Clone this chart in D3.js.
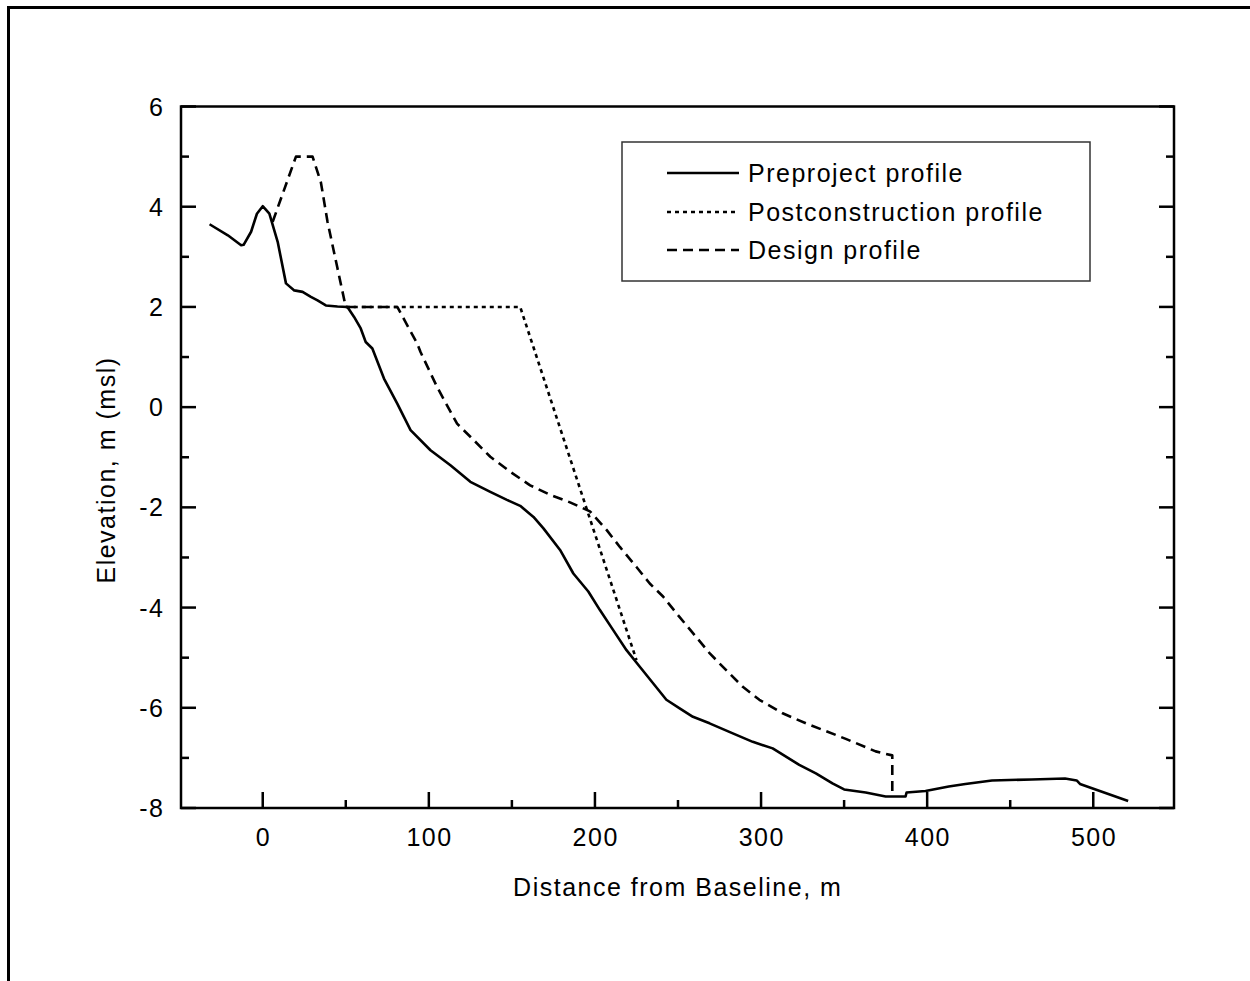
<!DOCTYPE html>
<html>
<head>
<meta charset="utf-8">
<script src="https://cdn.jsdelivr.net/npm/d3@7"></script>
<style>
  html, body { margin: 0; padding: 0; background: #fff; }
  svg { display: block; }
  text { font-family: "Liberation Sans", Arial, sans-serif; fill: #000; }
</style>
</head>
<body>
<svg id="chart" width="1250" height="981"></svg>
<script>
// ---- data ----
const preDist = [-32, -21, -13, -11.5, -7, -3.5, 0, 4, 9, 14, 19, 24, 29, 33, 38, 45, 51, 55, 59, 62, 66, 73, 81, 89, 101, 113, 125, 137, 147, 155, 163, 169, 179, 187, 196, 203, 211, 219, 227, 235, 243, 251, 259, 269, 283, 295, 307, 323, 333, 343, 350, 363, 375, 387, 387.6, 399, 413, 423, 439, 463, 483, 490, 492, 521];
const preElev = [3.65, 3.43, 3.23, 3.24, 3.50, 3.86, 4.01, 3.86, 3.30, 2.47, 2.33, 2.30, 2.20, 2.13, 2.03, 2.01, 2.0, 1.80, 1.57, 1.30, 1.17, 0.57, 0.07, -0.46, -0.86, -1.16, -1.49, -1.69, -1.85, -1.97, -2.19, -2.42, -2.85, -3.32, -3.68, -4.05, -4.45, -4.85, -5.18, -5.51, -5.84, -6.01, -6.18, -6.31, -6.51, -6.68, -6.81, -7.14, -7.31, -7.51, -7.63, -7.69, -7.77, -7.77, -7.69, -7.66, -7.57, -7.52, -7.45, -7.43, -7.41, -7.45, -7.52, -7.86];

const postDist = [50, 155, 225];
const postElev = [2.0, 2.0, -5.05];

const designDist = [6, 20, 30, 35, 39, 45, 50, 81, 93, 95, 105, 117, 125, 137, 149, 161, 173, 185, 197, 207, 215, 225, 233, 241, 249, 259, 269, 279, 289, 299, 313, 327, 351, 369, 379, 379];
const designElev = [3.70, 5.0, 5.0, 4.49, 3.70, 2.77, 2.0, 2.0, 1.27, 1.10, 0.40, -0.33, -0.59, -0.99, -1.29, -1.56, -1.75, -1.90, -2.08, -2.45, -2.79, -3.19, -3.52, -3.78, -4.11, -4.51, -4.91, -5.25, -5.58, -5.84, -6.11, -6.31, -6.62, -6.87, -6.95, -7.77];

const xMajorTicks = [0, 100, 200, 300, 400, 500];
const xMinorTicks = [50, 150, 250, 350, 450];
const yMajorTicks = [-8, -6, -4, -2, 0, 2, 4, 6];
const yMinorTicks = [-7, -5, -3, -1, 1, 3, 5];

const legendLabels = ["Preproject profile", "Postconstruction profile", "Design profile"];
const xTitle = "Distance from Baseline, m";
const yTitle = "Elevation, m (msl)";

// ---- layout ----
const svg = d3.select("#chart");
const L = 181, R = 1174, T = 106.5, B = 808;
const x = d3.scaleLinear().domain([-49.2, 548.6]).range([L, R]);
const y = d3.scaleLinear().domain([-8, 6]).range([B, T]);

// outer frame (top and left)
svg.append("line").attr("x1", 8).attr("y1", 7.5).attr("x2", 1250).attr("y2", 7.5)
  .attr("stroke", "#000").attr("stroke-width", 3);
svg.append("line").attr("x1", 8.5).attr("y1", 6).attr("x2", 8.5).attr("y2", 981)
  .attr("stroke", "#000").attr("stroke-width", 3);

// axes box
svg.append("rect").attr("x", L).attr("y", T).attr("width", R - L).attr("height", B - T)
  .attr("fill", "none").attr("stroke", "#000").attr("stroke-width", 2.5);

const tickG = svg.append("g").attr("stroke", "#000").attr("stroke-width", 2.5);
xMajorTicks.forEach(v => {
  tickG.append("line").attr("x1", x(v)).attr("x2", x(v)).attr("y1", B).attr("y2", B - 16);
});
xMinorTicks.forEach(v => {
  tickG.append("line").attr("x1", x(v)).attr("x2", x(v)).attr("y1", B).attr("y2", B - 8);
});
yMajorTicks.forEach(v => {
  tickG.append("line").attr("x1", L).attr("x2", L + 15).attr("y1", y(v)).attr("y2", y(v));
  tickG.append("line").attr("x1", R).attr("x2", R - 15).attr("y1", y(v)).attr("y2", y(v));
});
yMinorTicks.forEach(v => {
  tickG.append("line").attr("x1", L).attr("x2", L + 8).attr("y1", y(v)).attr("y2", y(v));
  tickG.append("line").attr("x1", R).attr("x2", R - 8).attr("y1", y(v)).attr("y2", y(v));
});

// tick labels
const tickFont = 25, ls = 1.5;
xMajorTicks.forEach(v => {
  svg.append("text").attr("x", x(v) + ls / 2).attr("y", 845.5)
    .attr("text-anchor", "middle").attr("font-size", tickFont).attr("letter-spacing", ls)
    .text(String(v));
});
yMajorTicks.forEach(v => {
  svg.append("text").attr("x", 163 + ls).attr("y", y(v) + 9)
    .attr("text-anchor", "end").attr("font-size", tickFont).attr("letter-spacing", ls)
    .text(String(v));
});

// axis titles
svg.append("text").attr("x", 677 + ls / 2).attr("y", 896)
  .attr("text-anchor", "middle").attr("font-size", 25).attr("letter-spacing", ls)
  .text(xTitle);
svg.append("text").attr("transform", "translate(115," + 470 + ") rotate(-90)")
  .attr("text-anchor", "middle").attr("font-size", 25).attr("letter-spacing", ls)
  .text(yTitle);

// data lines
const line = d3.line().x(d => x(d[0])).y(d => y(d[1]));
const zip = (a, b) => a.map((v, i) => [v, b[i]]);

const series = [
  { dist: preDist, elev: preElev, dash: null, width: 2.6 },
  { dist: postDist, elev: postElev, dash: "4,4", width: 2.6 },
  { dist: designDist, elev: designElev, dash: "10,6", width: 2.6 }
];
series.forEach(s => {
  svg.append("path").datum(zip(s.dist, s.elev))
    .attr("d", line).attr("fill", "none").attr("stroke", "#000")
    .attr("stroke-width", s.width).attr("stroke-linejoin", "round")
    .attr("stroke-dasharray", s.dash);
});

// legend
svg.append("rect").attr("x", 622).attr("y", 142).attr("width", 468).attr("height", 139)
  .attr("fill", "#fff").attr("stroke", "#333").attr("stroke-width", 1.5);
const rowsY = [173, 212, 250];
series.forEach((s, i) => {
  svg.append("line").attr("x1", 667).attr("x2", 739).attr("y1", rowsY[i]).attr("y2", rowsY[i])
    .attr("stroke", "#000").attr("stroke-width", s.width).attr("stroke-dasharray", s.dash);
  svg.append("text").attr("x", 748).attr("y", rowsY[i] + 9)
    .attr("font-size", 25).attr("letter-spacing", ls).text(legendLabels[i]);
});
</script>
</body>
</html>
